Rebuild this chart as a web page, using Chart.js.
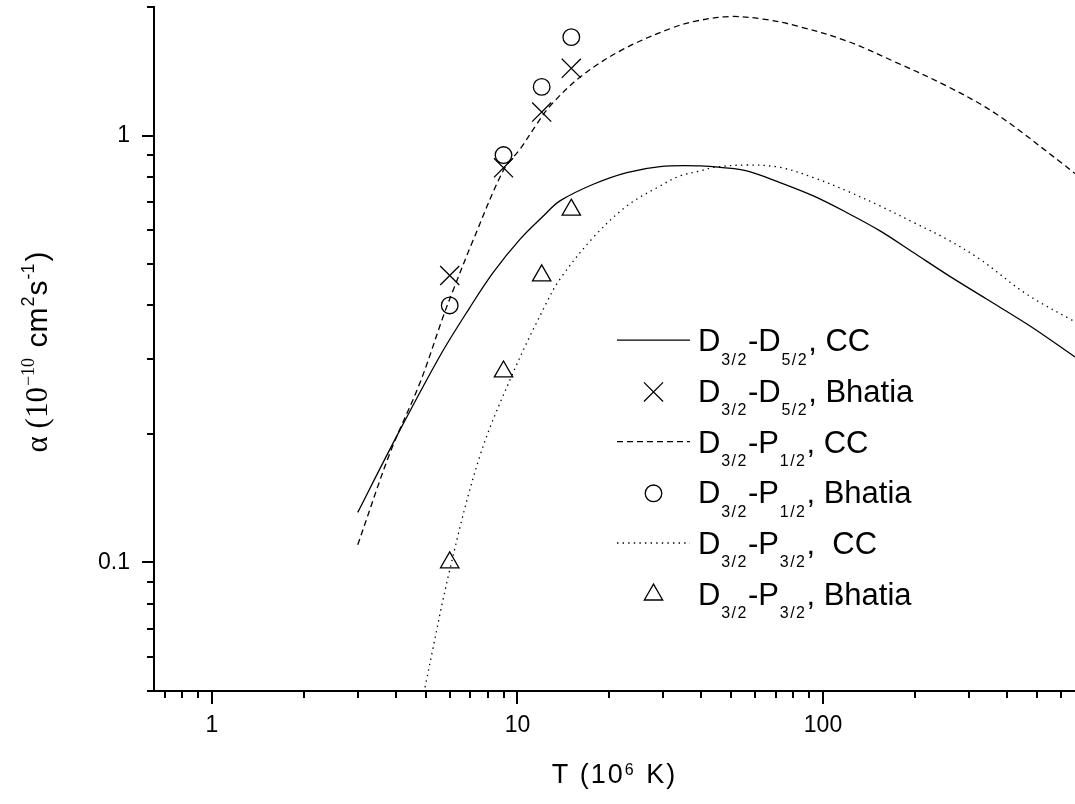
<!DOCTYPE html>
<html>
<head>
<meta charset="utf-8">
<script src="https://cdn.jsdelivr.net/npm/chart.js@4.4.1/dist/chart.umd.min.js"></script>
<style>
html,body{margin:0;padding:0;background:#fff;}
#wrap{width:1075px;height:804px;position:relative;}
canvas{display:block;}
</style>
</head>
<body>
<div id="wrap"><canvas id="c" width="1075" height="804"></canvas></div>
<script>
// ---------- data ----------
const tSolid = [3, 3.97, 5.58, 6.99, 8.33, 10.2, 12.15, 13.77, 17.7, 22.8, 29.3, 39.6, 47, 56.3, 72.3, 93, 119.6, 153.7, 197.6, 254, 343, 476, 668];
const aSolid = [0.131, 0.194, 0.305, 0.396, 0.478, 0.572, 0.648, 0.703, 0.769, 0.819, 0.846, 0.849, 0.841, 0.826, 0.776, 0.722, 0.66, 0.598, 0.532, 0.473, 0.414, 0.358, 0.303];

const tDashed = [3, 3.83, 4.8, 5.72, 6.17, 7.17, 9, 10.2, 11.56, 12.78, 16.2, 22.2, 32.3, 38.6, 49.6, 63.8, 82, 119.6, 174, 254, 370, 611, 668];
const aDashed = [0.110, 0.181, 0.264, 0.378, 0.436, 0.57, 0.83, 0.93, 1.063, 1.173, 1.379, 1.593, 1.79, 1.855, 1.90, 1.873, 1.806, 1.665, 1.482, 1.306, 1.122, 0.857, 0.815];

const tDotted = [4.98, 6.01, 7.54, 9.69, 12.3, 13.77, 17.7, 22.8, 29.3, 34, 39.6, 43.7, 56.3, 72.3, 93, 119.6, 153.7, 197.6, 254, 326.5, 464, 668];
const aDotted = [0.051, 0.0965, 0.178, 0.279, 0.399, 0.461, 0.577, 0.684, 0.762, 0.804, 0.826, 0.842, 0.853, 0.842, 0.797, 0.742, 0.684, 0.626, 0.572, 0.513, 0.425, 0.366];

const tBhatia = [6, 9, 12, 15];
const aBhatiaD52 = [0.47, 0.84, 1.135, 1.437];
const aBhatiaP12 = [0.40, 0.90, 1.30, 1.70];
const aBhatiaP32 = [0.10, 0.28, 0.47, 0.67];

const seriesLabels = [
  'D_{3/2}-D_{5/2}, CC',
  'D_{3/2}-D_{5/2}, Bhatia',
  'D_{3/2}-P_{1/2}, CC',
  'D_{3/2}-P_{1/2}, Bhatia',
  'D_{3/2}-P_{3/2},  CC',
  'D_{3/2}-P_{3/2}, Bhatia'
];

const xTickValues = [1, 10, 100];
const xTickLabels = ['1', '10', '100'];
const yTickValues = [0.1, 1];
const yTickLabels = ['0.1', '1'];

// ---------- helpers ----------
const SANS = '"Liberation Sans", Arial, sans-serif';
const SERIF = '"Liberation Serif", "Times New Roman", serif';
function pts(xs, ys) { return xs.map((x, i) => ({x: x, y: ys[i]})); }

function minorTicks(lo, hi) {
  const out = [];
  for (let e = -2; e <= 3; e++) {
    for (let m = 1; m <= 9; m++) {
      const v = +(m * Math.pow(10, e)).toPrecision(6);
      if (v >= lo - 1e-9 && v <= hi + 1e-9) out.push(v);
    }
  }
  return out;
}

function richParts(str) {
  const parts = []; const re = /([_^])\{([^}]*)\}/g; let last = 0, m;
  while ((m = re.exec(str))) {
    if (m.index > last) parts.push({t: str.slice(last, m.index), k: 'n'});
    parts.push({t: m[2], k: m[1] === '_' ? 'sub' : 'sup'});
    last = re.lastIndex;
  }
  if (last < str.length) parts.push({t: str.slice(last), k: 'n'});
  return parts;
}

// text run with optional manual letter spacing
function runWidth(ctx, p) {
  ctx.font = p.font;
  if (!p.ls) return ctx.measureText(p.t).width;
  let w = 0; for (const ch of p.t) w += ctx.measureText(ch).width + p.ls;
  return w;
}
function drawRun(ctx, p, x, y) {
  ctx.font = p.font;
  if (!p.ls) { ctx.fillText(p.t, x, y); return; }
  for (const ch of p.t) { ctx.fillText(ch, x, y); x += ctx.measureText(ch).width + p.ls; }
}
function drawParts(ctx, parts, x, y) {
  ctx.textBaseline = 'alphabetic'; ctx.textAlign = 'left';
  parts.forEach(p => {
    x += (p.dx || 0);
    drawRun(ctx, p, x, y + (p.dy || 0));
    x += runWidth(ctx, p);
  });
  return x;
}
function partsWidth(ctx, parts) {
  let w = 0;
  parts.forEach(p => { w += runWidth(ctx, p) + (p.dx || 0); });
  return w;
}

function drawMarker(ctx, style, r, x, y) {
  ctx.beginPath();
  if (style === 'crossRot') {
    const d = r * Math.SQRT1_2;
    ctx.moveTo(x - d, y - d); ctx.lineTo(x + d, y + d);
    ctx.moveTo(x - d, y + d); ctx.lineTo(x + d, y - d);
  } else if (style === 'circle') {
    ctx.arc(x, y, r, 0, Math.PI * 2);
  } else if (style === 'triangle') {
    ctx.moveTo(x, y - r);
    ctx.lineTo(x + r * Math.sin(2 * Math.PI / 3), y - r * Math.cos(2 * Math.PI / 3));
    ctx.lineTo(x + r * Math.sin(4 * Math.PI / 3), y - r * Math.cos(4 * Math.PI / 3));
    ctx.closePath();
  }
  ctx.stroke();
}

// ---------- decorations: ticks, titles, legend ----------
const decor = {
  id: 'decor',
  afterDraw(chart) {
    const ctx = chart.ctx, xs = chart.scales.x, ys = chart.scales.y, ca = chart.chartArea;
    ctx.save();
    ctx.strokeStyle = '#000'; ctx.fillStyle = '#000'; ctx.lineWidth = 2;
    // tick marks (outward)
    const xMinor = minorTicks(xs.min, xs.max).filter(v => xTickValues.indexOf(v) < 0);
    const yMinor = minorTicks(ys.min, ys.max).filter(v => yTickValues.indexOf(v) < 0);
    ctx.beginPath();
    xTickValues.forEach(v => { const p = Math.round(xs.getPixelForValue(v)); ctx.moveTo(p, ca.bottom); ctx.lineTo(p, ca.bottom + 13); });
    xMinor.forEach(v => { const p = Math.round(xs.getPixelForValue(v)); ctx.moveTo(p, ca.bottom); ctx.lineTo(p, ca.bottom + 7); });
    yTickValues.forEach(v => { const p = Math.round(ys.getPixelForValue(v)); ctx.moveTo(ca.left, p); ctx.lineTo(ca.left - 12, p); });
    yMinor.forEach(v => { const p = Math.round(ys.getPixelForValue(v)); ctx.moveTo(ca.left, p); ctx.lineTo(ca.left - 7, p); });
    ctx.stroke();

    // x axis title
    const xt = [
      {t: 'T (10', font: '27px ' + SANS, ls: 2.0},
      {t: '6', font: '16px ' + SANS, dy: -8, dx: 0},
      {t: ' K)', font: '27px ' + SANS, dx: 3, ls: 2.0}
    ];
    const xw = partsWidth(ctx, xt);
    drawParts(ctx, xt, 614.5 - xw / 2, 783);

    // y axis title (rotated)
    const yt = [
      {t: 'α (10', font: '31px ' + SERIF},
      {t: '−10', font: '18px ' + SERIF, dy: -13, dx: 1},
      {t: ' cm', font: '30px ' + SANS, dx: 2},
      {t: '2', font: '18px ' + SANS, dy: -13, dx: 1},
      {t: 's', font: '30px ' + SANS, dx: 1},
      {t: '-1', font: '18px ' + SANS, dy: -13, dx: 1},
      {t: ')', font: '30px ' + SANS, dx: 2}
    ];
    const yw = partsWidth(ctx, yt);
    ctx.save();
    ctx.translate(47, 352 + yw / 2);
    ctx.rotate(-Math.PI / 2);
    drawParts(ctx, yt, 0, 0);
    ctx.restore();

    // legend
    const base0 = 351.2, step = 50.7;
    chart.data.datasets.forEach((ds, i) => {
      const by = base0 + i * step;
      ctx.save();
      ctx.strokeStyle = '#000'; ctx.lineWidth = 1.3;
      if (ds.showLine !== false) {
        ctx.setLineDash(ds.borderDash || []);
        ctx.beginPath(); ctx.moveTo(617, by - 11); ctx.lineTo(690, by - 11); ctx.stroke();
        ctx.setLineDash([]);
      } else {
        drawMarker(ctx, ds.pointStyle, ds.pointRadius, 653.5, by - 10);
      }
      ctx.restore();
      const parts = richParts(ds.label).map(p => p.k === 'sub'
        ? {t: p.t, font: '16px ' + SANS, dy: 13.4, ls: 1.5, dx: 0.8}
        : {t: p.t, font: '31px ' + SANS});
      drawParts(ctx, parts, 698, by);
    });
    ctx.restore();
  }
};

// ---------- chart ----------
const lineBase = {showLine: true, borderColor: '#000', borderWidth: 1.3, pointRadius: 0, fill: false, tension: 0.35};
const markBase = {showLine: false, borderColor: '#000', backgroundColor: 'rgba(0,0,0,0)', pointBorderWidth: 1.3, borderWidth: 1.3};

new Chart(document.getElementById('c'), {
  type: 'line',
  data: {
    datasets: [
      Object.assign({}, lineBase, {label: seriesLabels[0], data: pts(tSolid, aSolid)}),
      Object.assign({}, markBase, {label: seriesLabels[1], data: pts(tBhatia, aBhatiaD52), pointStyle: 'crossRot', pointRadius: 13.5}),
      Object.assign({}, lineBase, {label: seriesLabels[2], data: pts(tDashed, aDashed), borderDash: [6, 4]}),
      Object.assign({}, markBase, {label: seriesLabels[3], data: pts(tBhatia, aBhatiaP12), pointStyle: 'circle', pointRadius: 8.3}),
      Object.assign({}, lineBase, {label: seriesLabels[4], data: pts(tDotted, aDotted), borderDash: [1.4, 4.2]}),
      Object.assign({}, markBase, {label: seriesLabels[5], data: pts(tBhatia, aBhatiaP32), pointStyle: 'triangle', pointRadius: 10.6})
    ]
  },
  options: {
    responsive: false,
    animation: false,
    devicePixelRatio: 1,
    events: [],
    layout: {autoPadding: false, padding: {top: 7, right: 0, bottom: 0, left: 0}},
    plugins: {legend: {display: false}, tooltip: {enabled: false}, title: {display: false}},
    scales: {
      x: {
        type: 'logarithmic', position: 'bottom', min: 0.646, max: 668, bounds: 'data',
        grid: {display: false, drawTicks: false},
        border: {display: true, color: '#000', width: 2},
        ticks: {autoSkip: false, maxRotation: 0, minRotation: 0, padding: 21, color: '#000',
          font: {family: SANS, size: 23},
          callback: (v, i) => xTickLabels[i]},
        afterBuildTicks: s => { s.ticks = xTickValues.map(v => ({value: v})); },
        afterFit: s => { s.height = 113; s.paddingLeft = 0; s.paddingRight = 0; }
      },
      y: {
        type: 'logarithmic', position: 'left', min: 0.05, max: 2, bounds: 'data',
        grid: {display: false, drawTicks: false},
        border: {display: true, color: '#000', width: 2},
        ticks: {autoSkip: false, padding: 24, color: '#000',
          font: {family: SANS, size: 23},
          callback: (v, i) => yTickLabels[i]},
        afterBuildTicks: s => { s.ticks = yTickValues.map(v => ({value: v})); },
        afterFit: s => { s.width = 154; s.paddingTop = 0; s.paddingBottom = 0; }
      }
    }
  },
  plugins: [decor]
});
</script>
</body>
</html>
